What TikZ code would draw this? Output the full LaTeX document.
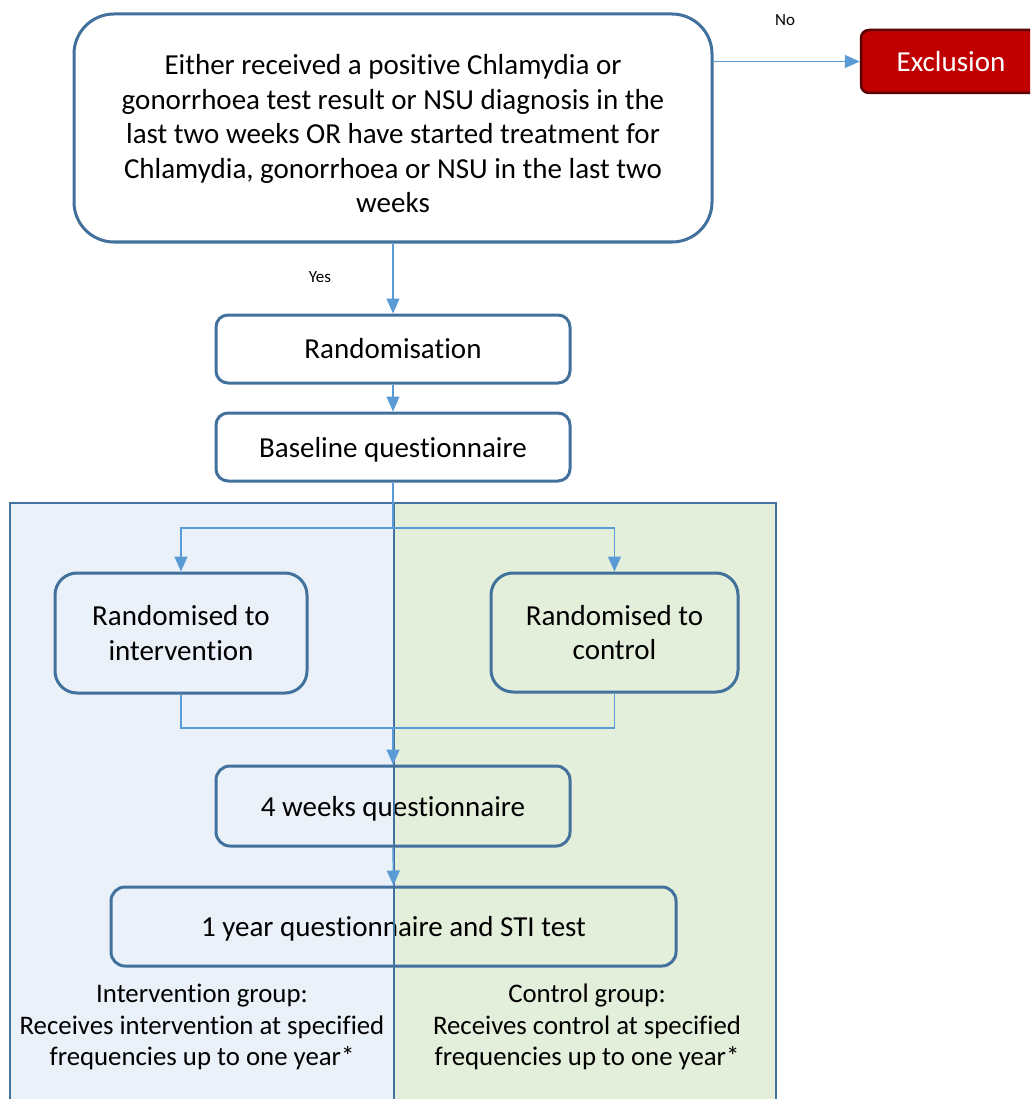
\documentclass[tikz,border=0pt]{standalone}
\usepackage{fontspec}
\setmainfont{Carlito}[Ligatures=NoCommon]
\usetikzlibrary{arrows.meta}
\definecolor{bord}{HTML}{41719C}
\definecolor{conncol}{HTML}{5B9BD5}
\definecolor{leftfill}{HTML}{EAF1F8}
\definecolor{rightfill}{HTML}{E3EFDA}
\definecolor{exfill}{HTML}{C00000}
\definecolor{exbord}{HTML}{5A0000}
\tikzset{
  box/.style={draw=bord, line width=3pt, rectangle, align=center, inner sep=0pt,
    font=\fontsize{29}{34.5}\selectfont},
  nodepth/.style={text depth=0pt},
  conn/.style={draw=conncol, line width=1.4pt},
  arr/.style={conn, -{Triangle[length=15pt,width=13pt]}},
  lbl/.style={font=\fontsize{17}{20}\selectfont, inner sep=0pt},
  grouptxt/.style={align=center, inner sep=0pt, font=\fontsize{26.8}{31.8}\selectfont},
}
\begin{document}
\begin{tikzpicture}[x=1pt,y=-1pt]
\useasboundingbox (0,0) rectangle (1030,1099);
\begin{scope}
\clip (0,0) rectangle (1030,1099);
% panels
\fill[leftfill] (10,503) rectangle (394,1110);
\fill[rightfill] (394,503) rectangle (776,1110);
\draw[bord, line width=2.2pt] (10,1110) -- (10,503) -- (776,503) -- (776,1110);
% nodes
\node[box, fill=white, minimum width=638pt, minimum height=228pt, rounded corners=40pt] (top) at (393,128) {};
\node[align=center, inner sep=0pt, font=\fontsize{29}{34.5}\selectfont] (toptxt) at (393,134)
  {Either received a positive Chlamydia or\\gonorrhoea test result or NSU diagnosis in the\\last two weeks OR have started treatment for\\Chlamydia, gonorrhoea or NSU in the last two\\weeks};
\node[box, nodepth, draw=exbord, fill=exfill, text=white, line width=2.5pt, minimum width=180pt, minimum height=63pt, rounded corners=8pt] (excl) at (951,61.5) {Exclusion};
\node[box, fill=white, minimum width=354pt, minimum height=68pt, rounded corners=12pt] (rand) at (393,349) {Randomisation};
\node[box, nodepth, fill=white, minimum width=354pt, minimum height=68pt, rounded corners=12pt] (base) at (393,447) {Baseline questionnaire};
\node[box, minimum width=252pt, minimum height=120pt, rounded corners=22pt] (int) at (181,633) {Randomised to\\intervention};
\node[box, minimum width=247pt, minimum height=119pt, rounded corners=22pt] (ctl) at (614.5,632.5) {Randomised to\\control};
\node[box, nodepth, minimum width=354pt, minimum height=80pt, rounded corners=14pt] (w4) at (393,806) {4 weeks questionnaire};
\node[box, nodepth, minimum width=565pt, minimum height=79pt, rounded corners=14pt] (y1) at (393.5,926.5) {1 year questionnaire and STI test};
\node[grouptxt] (gint) at (202,1027) {Intervention group:\\Receives intervention at specified\\frequencies up to one year*};
\node[grouptxt] (gctl) at (587,1027) {Control group:\\Receives control at specified\\frequencies up to one year*};
% divider
\draw[bord, line width=2.2pt] (394,503) -- (394,1110);
% labels
\node[lbl] (no) at (785,20) {No};
\node[lbl] (yes) at (320,277) {Yes};
% connectors
\draw[arr] (top.east |- excl.west) -- (excl.west);
\draw[arr] (top.south) -- (rand.north);
\draw[arr] (rand.south) -- (base.north);
\coordinate (split) at (393,528);
\coordinate (merge) at (393,728);
\draw[conn] (base.south) -- (split);
\draw[arr] (split) -| (int.north);
\draw[arr] (split) -| (ctl.north);
\draw[conn] (int.south) -- (int.south |- merge) -- (ctl.south |- merge) -- (ctl.south);
\draw[arr] (merge) -- (w4.north);
\draw[arr] (w4.south) -- (y1.north);
\end{scope}
\end{tikzpicture}
\end{document}
